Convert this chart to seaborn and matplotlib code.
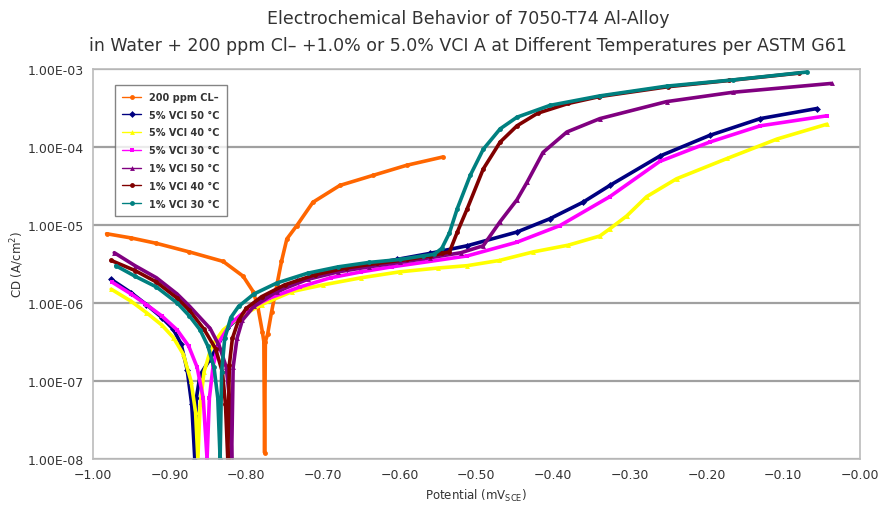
import numpy as np
import pandas as pd
import seaborn as sns
import matplotlib.pyplot as plt

# ============ data (V vs SCE, CD in A/cm2) ============

cl_v = [-0.982, -0.95, -0.917, -0.874, -0.83, -0.804, -0.791, -0.785, -0.779, -0.777, -0.776,
        -0.775, -0.772, -0.767, -0.760, -0.754, -0.747, -0.734, -0.713, -0.678, -0.635, -0.591, -0.544]
cl_cd = [7.7e-6, 6.8e-6, 5.8e-6, 4.5e-6, 3.4e-6, 2.2e-6, 1.4e-6, 9.1e-7, 4.3e-7, 3.2e-7, 1.2e-8,
         3.2e-7, 4.0e-7, 7.6e-7, 1.7e-6, 3.4e-6, 6.6e-6, 9.8e-6, 1.95e-5, 3.2e-5, 4.3e-5, 5.8e-5, 7.4e-5]

v5_50_v = [-0.976, -0.95, -0.93, -0.91, -0.895, -0.885, -0.877, -0.871, -0.867, -0.865, -0.860,
           -0.847, -0.825, -0.808, -0.778, -0.734, -0.669, -0.604, -0.561, -0.512, -0.447, -0.404,
           -0.361, -0.326, -0.261, -0.196, -0.130, -0.056]
v5_50_cd = [2.0e-6, 1.35e-6, 9.5e-7, 6.5e-7, 4.6e-7, 3.0e-7, 1.4e-7, 5e-8, 1.0e-8, 6e-8, 1.2e-7,
            1.9e-7, 4.7e-7, 6.8e-7, 1.1e-6, 1.9e-6, 2.75e-6, 3.6e-6, 4.3e-6, 5.4e-6, 8.1e-6, 1.2e-5,
            1.95e-5, 3.2e-5, 7.6e-5, 1.4e-4, 2.3e-4, 3.1e-4]

v5_40_v = [-0.976, -0.95, -0.93, -0.91, -0.895, -0.882, -0.872, -0.866, -0.863, -0.860, -0.855,
           -0.845, -0.83, -0.81, -0.78, -0.74, -0.70, -0.65, -0.60, -0.55, -0.512, -0.47, -0.426,
           -0.38, -0.339, -0.326, -0.304, -0.278, -0.239, -0.173, -0.108, -0.043]
v5_40_cd = [1.5e-6, 1.05e-6, 7.5e-7, 5.2e-7, 3.6e-7, 2.2e-7, 1.0e-7, 4e-8, 1.0e-8, 5e-8, 1.3e-7,
            2.8e-7, 4.5e-7, 6.5e-7, 9.5e-7, 1.4e-6, 1.7e-6, 2.1e-6, 2.5e-6, 2.8e-6, 3.0e-6, 3.5e-6, 4.5e-6,
            5.5e-6, 7.2e-6, 8.9e-6, 1.3e-5, 2.3e-5, 3.9e-5, 7.1e-5, 1.26e-4, 1.95e-4]

v5_30_v = [-0.975, -0.95, -0.93, -0.91, -0.89, -0.875, -0.864, -0.856, -0.851, -0.848, -0.843,
           -0.835, -0.82, -0.80, -0.77, -0.73, -0.69, -0.65, -0.61, -0.57, -0.512, -0.447, -0.391,
           -0.326, -0.261, -0.196, -0.130, -0.043]
v5_30_cd = [1.85e-6, 1.3e-6, 9.5e-7, 6.8e-7, 4.5e-7, 2.8e-7, 1.5e-7, 6e-8, 1.0e-8, 6e-8, 1.6e-7,
            3.2e-7, 5.5e-7, 8e-7, 1.15e-6, 1.6e-6, 2.1e-6, 2.5e-6, 2.9e-6, 3.3e-6, 4.0e-6, 6.0e-6, 9.8e-6,
            2.3e-5, 6.5e-5, 1.15e-4, 1.86e-4, 2.5e-4]

v1_50_v = [-0.972, -0.945, -0.917, -0.89, -0.874, -0.847, -0.835, -0.826, -0.821, -0.819, -0.817,
           -0.812, -0.805, -0.79, -0.76, -0.72, -0.68, -0.64, -0.60, -0.56, -0.52, -0.491, -0.469,
           -0.447, -0.434, -0.413, -0.382, -0.339, -0.252, -0.166, -0.037]
v1_50_cd = [4.4e-6, 3.0e-6, 2.1e-6, 1.3e-6, 9.1e-7, 4.7e-7, 2.8e-7, 1.5e-7, 5e-8, 1.0e-8, 1.5e-7,
            3.5e-7, 6e-7, 9e-7, 1.4e-6, 2.0e-6, 2.5e-6, 2.9e-6, 3.3e-6, 3.8e-6, 4.4e-6, 5.4e-6, 1.1e-5,
            2.1e-5, 3.5e-5, 8.5e-5, 1.55e-4, 2.3e-4, 3.8e-4, 5.0e-4, 6.5e-4]

v1_40_v = [-0.976, -0.945, -0.917, -0.89, -0.874, -0.855, -0.84, -0.831, -0.827, -0.824, -0.822,
           -0.818, -0.81, -0.80, -0.78, -0.75, -0.71, -0.67, -0.63, -0.59, -0.56, -0.545, -0.535,
           -0.525, -0.512, -0.491, -0.469, -0.447, -0.42, -0.38, -0.34, -0.25, -0.17, -0.08]
v1_40_cd = [3.5e-6, 2.6e-6, 1.85e-6, 1.15e-6, 8e-7, 4.6e-7, 2.6e-7, 1.3e-7, 5e-8, 1.0e-8, 1.6e-7,
            3.5e-7, 6e-7, 8.5e-7, 1.2e-6, 1.7e-6, 2.3e-6, 2.8e-6, 3.2e-6, 3.6e-6, 4.0e-6, 4.3e-6, 4.5e-6,
            8e-6, 1.6e-5, 5.2e-5, 1.15e-4, 1.86e-4, 2.7e-4, 3.6e-4, 4.4e-4, 5.9e-4, 7.1e-4, 8.8e-4]

v1_30_v = [-0.970, -0.945, -0.917, -0.89, -0.874, -0.86, -0.85, -0.842, -0.837, -0.834, -0.832,
           -0.828, -0.82, -0.81, -0.79, -0.76, -0.72, -0.68, -0.64, -0.60, -0.57, -0.555, -0.545,
           -0.535, -0.525, -0.508, -0.491, -0.469, -0.447, -0.404, -0.339, -0.252, -0.166, -0.069]
v1_30_cd = [3.0e-6, 2.2e-6, 1.6e-6, 1.0e-6, 6.8e-7, 4.5e-7, 2.8e-7, 1.5e-7, 6e-8, 1.0e-8, 1.3e-7,
            3.5e-7, 6.5e-7, 9e-7, 1.3e-6, 1.8e-6, 2.4e-6, 2.9e-6, 3.3e-6, 3.6e-6, 4.0e-6, 4.2e-6, 5.0e-6,
            7.9e-6, 1.6e-5, 4.3e-5, 9.3e-5, 1.7e-4, 2.4e-4, 3.4e-4, 4.5e-4, 6.0e-4, 7.2e-4, 9.1e-4]

series_names = ["200 ppm CL\u2013", "5% VCI 50 \u00b0C", "5% VCI 40 \u00b0C", "5% VCI 30 \u00b0C",
                "1% VCI 50 \u00b0C", "1% VCI 40 \u00b0C", "1% VCI 30 \u00b0C"]
series_v = [cl_v, v5_50_v, v5_40_v, v5_30_v, v1_50_v, v1_40_v, v1_30_v]
series_cd = [cl_cd, v5_50_cd, v5_40_cd, v5_30_cd, v1_50_cd, v1_40_cd, v1_30_cd]
colors = ["#FF6600", "#000080", "#FFFF00", "#FF00FF", "#800080", "#800000", "#008080"]
marker_list = ["o", "D", "^", "s", "^", "o", "o"]

x_ticks = [-1.0, -0.9, -0.8, -0.7, -0.6, -0.5, -0.4, -0.3, -0.2, -0.1, 0.0]
x_ticklabels = ["\u22121.00", "\u22120.90", "\u22120.80", "\u22120.70", "\u22120.60", "\u22120.50",
                "\u22120.40", "\u22120.30", "\u22120.20", "\u22120.10", "\u22120.00"]
y_ticks = [1e-8, 1e-7, 1e-6, 1e-5, 1e-4, 1e-3]
y_ticklabels = ["1.00E-08", "1.00E-07", "1.00E-06", "1.00E-05", "1.00E-04", "1.00E-03"]

# long format for seaborn
df = pd.concat([pd.DataFrame({"V": v, "CD": cd, "series": n})
                for n, v, cd in zip(series_names, series_v, series_cd)], ignore_index=True)

sns.set_style("white")
plt.rcParams['font.family'] = ['DejaVu Sans']

fig = plt.figure(figsize=(8.92, 5.06), dpi=100)
ax = fig.add_axes([0.104, 0.091, 0.86, 0.771])

sns.lineplot(data=df, x="V", y="CD", hue="series", style="series",
             palette=dict(zip(series_names, colors)),
             markers=dict(zip(series_names, marker_list)), dashes=False,
             estimator=None, sort=False, linewidth=2.6, markersize=3.5,
             markeredgewidth=0, ax=ax)

ax.set_yscale("log")
ax.set_xlim(-1.0, 0.0)
ax.set_ylim(1e-8, 1e-3)
ax.set_yticks(y_ticks)
ax.set_yticklabels(y_ticklabels, fontsize=9, color="#333333")
ax.minorticks_off()
ax.set_xticks(x_ticks)
ax.set_xticklabels(x_ticklabels, fontsize=9, color="#333333")
ax.tick_params(axis="both", length=3, color="#999999")
ax.grid(axis="y", color="#a0a0a0", linewidth=1.6)
ax.set_axisbelow(True)
for s in ax.spines.values():
    s.set_color("#bbbbbb")
    s.set_linewidth(1.2)

ax.set_xlabel("Potential (mV$_{\\rm SCE}$)", fontsize=8.5, color="#333333")
ax.set_ylabel("CD (A/cm$^2$)", fontsize=8.5, color="#333333", labelpad=1)

fig.text(0.525, 0.963, "Electrochemical Behavior of 7050-T74 Al-Alloy",
         ha="center", va="center", fontsize=12.5, color="#333333")
fig.text(0.525, 0.91, "in Water + 200 ppm Cl\u2013 +1.0% or 5.0% VCI A at Different Temperatures per ASTM G61",
         ha="center", va="center", fontsize=12.5, color="#333333")

leg = ax.legend(loc="upper left", bbox_to_anchor=(0.022, 0.972),
                frameon=True, fancybox=False, handlelength=2.0, labelspacing=0.8,
                borderpad=0.75, prop={"weight": "bold", "size": 7})
leg.get_frame().set_edgecolor("#666666")
leg.get_frame().set_linewidth(1.0)
for line in leg.get_lines():
    line.set_linewidth(1.0)
for t in leg.get_texts():
    t.set_color("#333333")

plt.savefig("out.png", dpi=100)
